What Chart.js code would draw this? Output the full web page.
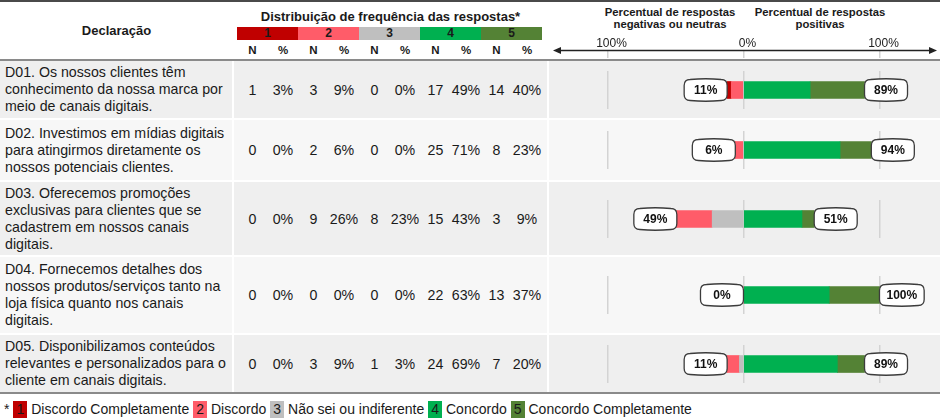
<!DOCTYPE html>
<html><head><meta charset="utf-8">
<script src="https://cdn.jsdelivr.net/npm/chart.js@4"></script>
<style>
body{margin:0;background:#fff;font-family:"Liberation Sans",Arial,sans-serif;color:#1a1a1a}
#wrap{position:relative;width:940px;height:419px;overflow:hidden;background:#fff}
.abs{position:absolute}
#topline{left:0;top:0;width:940px;height:2px;background:#4a4a4a}
#hline{left:0;top:59px;width:940px;height:2px;background:#8a8a8a}
#bline{left:0;top:392px;width:940px;height:2px;background:#8a8a8a}
#hDecl{left:0;top:23px;width:233px;text-align:center;font-weight:bold;font-size:13px;line-height:16px}
#hDist{left:234px;top:9px;width:313px;text-align:center;font-weight:bold;font-size:13px;line-height:16px}
#hBoxes{left:237px;top:27px;display:flex}
#hBoxes div{width:61px;height:13px;line-height:13px;text-align:center;font-weight:bold;font-size:12px;color:#1a1a1a}
#hNP{left:237px;top:43px;display:flex}
#hNP span{display:block;text-align:center;font-weight:bold;font-size:11.5px;line-height:14px}
.cn{width:31px}.cp{width:30px}
#hNeg,#hPos{top:7px;width:160px;text-align:center;font-weight:bold;font-size:11.3px;line-height:11.5px}
#hNeg{left:590px}#hPos{left:740px}
#axisBox{left:549px;top:38px;width:391px;height:20px;overflow:hidden}
#axisInner{position:relative;width:391px;height:34px}
#rows{left:0;top:61px;width:940px}
.row{display:flex;margin-bottom:2px}
.row:nth-child(1){height:57px}.row:nth-child(2){height:60px}.row:nth-child(3){height:73px}.row:nth-child(4){height:76px}.row:nth-child(5){height:57px}
.row:nth-child(odd)>div{background:#efefef}
.row:nth-child(even)>div{background:#f7f7f7}
.tc{width:227px;padding-left:5px;margin-right:2px;display:flex;align-items:center;white-space:pre-line;font-size:14.2px;line-height:17px}
.nc{width:310px;padding-left:3px;margin-right:2px;display:flex;align-items:center;font-size:14.2px}
.nc span{display:block;text-align:center}
.cc{width:391px;display:flex;align-items:center}
.cw{position:relative;width:391px;height:38px}
#footer{left:4px;top:399px;font-size:14px;line-height:20px;white-space:nowrap}
.fb{display:inline-block;width:14px;height:17px;line-height:17px;text-align:center;vertical-align:baseline}
</style></head>
<body>
<div id="wrap">
  <div id="topline" class="abs"></div>
  <div id="hDecl" class="abs">Declaração</div>
  <div id="hDist" class="abs">Distribuição de frequência das respostas*</div>
  <div id="hBoxes" class="abs"></div>
  <div id="hNP" class="abs"></div>
  <div id="hNeg" class="abs">Percentual de respostas<br>negativas ou neutras</div>
  <div id="hPos" class="abs">Percentual de respostas<br>positivas</div>
  <div id="axisBox" class="abs"><div id="axisInner"><canvas id="axisCanvas"></canvas></div></div>
  <div id="hline" class="abs"></div>
  <div id="rows" class="abs"></div>
  <div id="bline" class="abs"></div>
  <div id="footer" class="abs"></div>
</div>
<script>
// ---- data ----
const declarations = [
  "D01. Os nossos clientes têm\nconhecimento da nossa marca por\nmeio de canais digitais.",
  "D02. Investimos em mídias digitais\npara atingirmos diretamente os\nnossos potenciais clientes.",
  "D03. Oferecemos promoções\nexclusivas para clientes que se\ncadastrem em nossos canais\ndigitais.",
  "D04. Fornecemos detalhes dos\nnossos produtos/serviços tanto na\nloja física quanto nos canais\ndigitais.",
  "D05. Disponibilizamos conteúdos\nrelevantes e personalizados para o\ncliente em canais digitais."
];
const scaleCodes = ["1","2","3","4","5"];
const scaleNames = ["Discordo Completamente","Discordo","Não sei ou indiferente","Concordo","Concordo Completamente"];
const scaleColors = ["#c00000","#ff5c69","#bfbfbf","#00b050","#548235"];
const n1 = [1,0,0,0,0];     const p1 = [3,0,0,0,0];
const n2 = [3,2,9,0,3];     const p2 = [9,6,26,0,9];
const n3 = [0,0,8,0,1];     const p3 = [0,0,23,0,3];
const n4 = [17,25,15,22,24]; const p4 = [49,71,43,63,69];
const n5 = [14,8,3,13,7];   const p5 = [40,23,9,37,20];
const negLabels = ["11%","6%","49%","0%","11%"];
const posLabels = ["89%","94%","51%","100%","89%"];
const tickValues = [-100,0,100];
const tickLabels = ["100%","0%","100%"];
const X_MIN = -143, X_MAX = 144.5;

const counts = [n1,n2,n3,n4,n5];
const pcts = [p1,p2,p3,p4,p5];

// ---- header ----
document.getElementById('hBoxes').innerHTML = scaleCodes.map((c,i)=>`<div style="background:${scaleColors[i]}">${c}</div>`).join('');
document.getElementById('hNP').innerHTML = scaleCodes.map(()=>`<span class="cn">N</span><span class="cp">%</span>`).join('');
document.getElementById('footer').innerHTML = '* ' + scaleCodes.map((c,i)=>`<span class="fb" style="background:${scaleColors[i]}">${c}</span> ${scaleNames[i]}`).join(' ');

// ---- rows ----
const rowsEl = document.getElementById('rows');
declarations.forEach((d,i)=>{
  const row = document.createElement('div'); row.className='row';
  const tc = document.createElement('div'); tc.className='tc'; tc.textContent = d;
  const nc = document.createElement('div'); nc.className='nc';
  nc.innerHTML = counts.map((arr,k)=>`<span class="cn">${arr[i]}</span><span class="cp">${pcts[k][i]}%</span>`).join('');
  const cc = document.createElement('div'); cc.className='cc';
  cc.innerHTML = `<div class="cw"><canvas id="c${i}"></canvas></div>`;
  row.appendChild(tc); row.appendChild(nc); row.appendChild(cc);
  rowsEl.appendChild(row);
});

const gridOpts = {color:'#d3d3d3', lineWidth:1.5, drawTicks:false};

function roundBox(ctx, x, y, w, h, r){
  ctx.beginPath();
  ctx.moveTo(x+r,y);
  ctx.quadraticCurveTo(x+w/2,y-1.5,x+w-r,y);
  ctx.quadraticCurveTo(x+w,y,x+w,y+r);
  ctx.lineTo(x+w,y+h-r);
  ctx.quadraticCurveTo(x+w,y+h,x+w-r,y+h);
  ctx.quadraticCurveTo(x+w/2,y+h+1.5,x+r,y+h);
  ctx.quadraticCurveTo(x,y+h,x,y+h-r);
  ctx.lineTo(x,y+r);
  ctx.quadraticCurveTo(x,y,x+r,y);
  ctx.closePath();
}

const boxLabelPlugin = {
  id:'boxLabels',
  afterDatasetsDraw(chart, args, opts){
    const ctx = chart.ctx, xs = chart.scales.x, ys = chart.scales.y;
    const yc = ys.getPixelForValue(0);
    const xNeg = xs.getPixelForValue(-opts.negSum);
    const xPos = xs.getPixelForValue(opts.posSum);
    ctx.save();
    ctx.font = 'bold 12px "Liberation Sans", Arial, sans-serif';
    ctx.textAlign='center'; ctx.textBaseline='middle';
    const h = 21;
    [[opts.neg, 'r', xNeg],[opts.pos,'l',xPos]].forEach(([txt,side,xp])=>{
      const w = Math.max(43, ctx.measureText(txt).width + 14);
      const x0 = side==='r' ? xp - w : xp;
      roundBox(ctx, x0, yc - h/2, w, h, 6);
      ctx.fillStyle='#fff'; ctx.fill();
      ctx.lineWidth=1.3; ctx.strokeStyle='#3c3c3c'; ctx.stroke();
      ctx.fillStyle='#111'; ctx.fillText(txt, x0 + w/2, yc + 0.5);
    });
    ctx.restore();
  }
};

// order: neutral nearest zero, then 2, then 1 on the negative side; 4 then 5 on positive side
const dsOrder = [2,1,0,3,4];
declarations.forEach((d,i)=>{
  const datasets = dsOrder.map(k=>({
    label: scaleNames[k],
    data: [k<3 ? -pcts[k][i] : pcts[k][i]],
    backgroundColor: scaleColors[k],
    borderWidth: 0,
    barThickness: 17
  }));
  new Chart(document.getElementById('c'+i), {
    type:'bar',
    data:{labels:[''], datasets},
    options:{
      indexAxis:'y', responsive:true, maintainAspectRatio:false, animation:false,
      layout:{padding:0},
      plugins:{legend:{display:false}, tooltip:{enabled:false},
        boxLabels:{neg:negLabels[i], pos:posLabels[i],
          negSum: p1[i]+p2[i]+p3[i], posSum: p4[i]+p5[i]}},
      scales:{
        x:{type:'linear', min:X_MIN, max:X_MAX, stacked:true,
           afterBuildTicks:s=>{s.ticks = tickValues.map(v=>({value:v}));},
           ticks:{display:false}, grid:gridOpts, border:{display:false}},
        y:{stacked:true, display:false}
      }
    },
    plugins:[boxLabelPlugin]
  });
});

// ---- header axis ----
const arrowPlugin = {
  id:'arrowAxis',
  afterDraw(chart){
    const ctx = chart.ctx, a = chart.chartArea;
    const y = a.top + 0.5, l = a.left + 4, r = a.right - 3;
    ctx.save();
    ctx.strokeStyle='#222'; ctx.fillStyle='#222'; ctx.lineWidth=1.5;
    ctx.beginPath(); ctx.moveTo(l+5,y); ctx.lineTo(r-5,y); ctx.stroke();
    ctx.beginPath(); ctx.moveTo(l,y); ctx.lineTo(l+8,y-3.5); ctx.lineTo(l+8,y+3.5); ctx.closePath(); ctx.fill();
    ctx.beginPath(); ctx.moveTo(r,y); ctx.lineTo(r-8,y-3.5); ctx.lineTo(r-8,y+3.5); ctx.closePath(); ctx.fill();
    ctx.restore();
  }
};
new Chart(document.getElementById('axisCanvas'), {
  type:'bar',
  data:{labels:[''], datasets:[]},
  options:{
    indexAxis:'y', responsive:true, maintainAspectRatio:false, animation:false,
    layout:{padding:0},
    plugins:{legend:{display:false}, tooltip:{enabled:false}},
    scales:{
      x:{type:'linear', position:'top', min:X_MIN, max:X_MAX,
         afterBuildTicks:s=>{s.ticks = tickValues.map(v=>({value:v}));},
         ticks:{padding:0, labelOffset:4, maxRotation:0, autoSkip:false, color:'#222',
           font:{size:12, family:'"Liberation Sans", Arial, sans-serif', lineHeight:1},
           callback:(v,idx)=>tickLabels[idx]},
         grid:gridOpts, border:{display:false}},
      y:{display:false}
    }
  },
  plugins:[arrowPlugin]
});
</script>
</body></html>
